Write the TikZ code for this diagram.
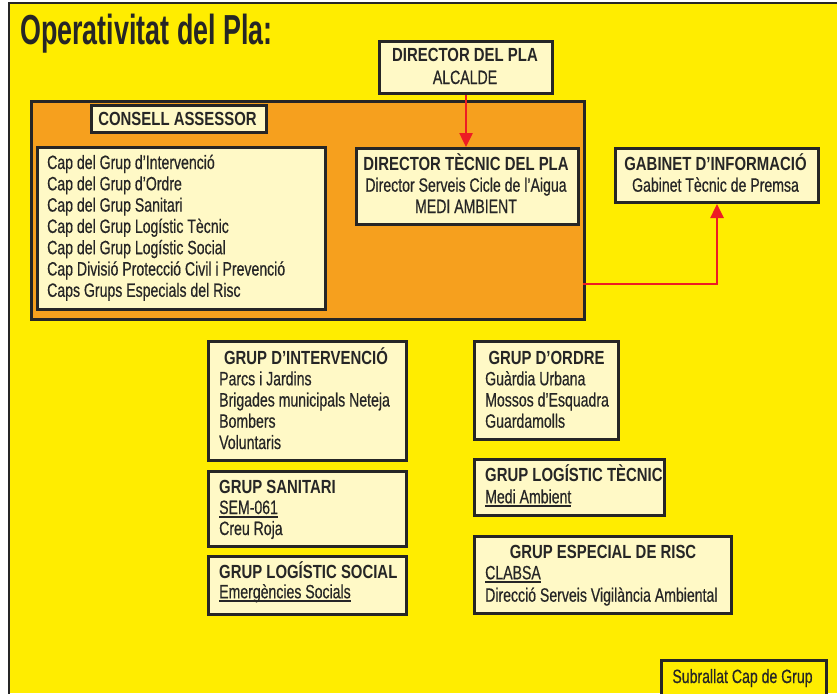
\documentclass[tikz,border=0pt]{standalone}
\usepackage{fontspec}
\setmainfont[FakeStretch=0.73,FakeBold=0.5]{Liberation Sans}
\newfontfamily\titlefont[FakeStretch=0.64]{Liberation Sans}
\newfontfamily\hdrfont[FakeStretch=0.785]{Liberation Sans}
\usetikzlibrary{arrows.meta}
\definecolor{yel}{HTML}{FFED00}
\definecolor{org}{HTML}{F6A01E}
\definecolor{pale}{HTML}{FFF9C6}
\definecolor{dk}{HTML}{262626}
\definecolor{rd}{HTML}{ED1C24}
\newcommand\ulx[1]{\setbox0\hbox{#1}\rlap{\rule[-3.6pt]{\wd0}{1.8pt}}\box0}
\tikzset{
  box/.style={draw=dk, line width=3pt, fill=pale, inner sep=0pt, anchor=north west},
  txt/.style={anchor=base west, inner sep=0pt, text=dk, font=\fontsize{19.3}{21}\selectfont},
  hd/.style={anchor=base, inner sep=0pt, text=dk, font=\hdrfont\bfseries\fontsize{19}{21}\selectfont},
  hdl/.style={hd, anchor=base west},
  arr/.style={draw=rd, line width=2.5pt, -{Triangle[length=14pt,width=13pt]}}
}
\begin{document}
\begin{tikzpicture}[x=1pt,y=-1pt]
\clip (0,0) rectangle (837,693);
\fill[white] (0,0) rectangle (837,693);
\fill[yel] (9,3) rectangle (837,693);
\draw[dk, line width=2.5pt] (9,700) -- (9,3) -- (840,3);
% title
\node[anchor=base west, inner sep=0pt, text=dk, font=\titlefont\bfseries\fontsize{42}{42}\selectfont] (title) at (20,45) {Operativitat del Pla:};
% boxes
\node[box, minimum width=173pt, minimum height=52pt] (dp) at (378,40) {};
\node[box, fill=org, minimum width=553pt, minimum height=218pt] (ca) at (30,100) {};
\node[box, minimum width=175pt, minimum height=27pt] (cah) at (90,104) {};
\node[box, minimum width=288pt, minimum height=162pt] (cl) at (36,146) {};
\node[box, minimum width=222pt, minimum height=76pt] (dt) at (355,147) {};
\node[box, minimum width=203pt, minimum height=54pt] (gab) at (614,147) {};
\node[box, minimum width=198pt, minimum height=119pt] (gi) at (207,340) {};
\node[box, minimum width=198pt, minimum height=75pt] (gs) at (207,470) {};
\node[box, minimum width=198pt, minimum height=58pt] (gls) at (207,555) {};
\node[box, minimum width=144pt, minimum height=98pt] (go) at (473,340) {};
\node[box, minimum width=190pt, minimum height=56pt] (glt) at (473,458) {};
\node[box, minimum width=257pt, minimum height=77pt] (ge) at (473,535) {};
\node[box, fill=yel, minimum width=165pt, minimum height=46pt] (sub) at (660,659) {};
% texts
\node[hd] (dp1) at (465,62) {DIRECTOR DEL PLA};
\node[txt, anchor=base] (dp2) at (465,84) {ALCALDE};
\node[hd] (cah1) at (177.5,125) {CONSELL ASSESSOR};
\node[txt] (cl1) at (47,169) {Cap del Grup d’Intervenció};
\node[txt] (cl2) at (47,190.3) {Cap del Grup d’Ordre};
\node[txt] (cl3) at (47,211.6) {Cap del Grup Sanitari};
\node[txt] (cl4) at (47,232.9) {Cap del Grup Logístic Tècnic};
\node[txt] (cl5) at (47,254.2) {Cap del Grup Logístic Social};
\node[txt] (cl6) at (47,275.5) {Cap Divisió Protecció Civil i Prevenció};
\node[txt] (cl7) at (47,296.8) {Caps Grups Especials del Risc};
\node[hd] (dt1) at (466,170) {DIRECTOR TÈCNIC DEL PLA};
\node[txt, anchor=base] (dt2) at (466,191.7) {Director Serveis Cicle de l’Aigua};
\node[txt, anchor=base] (dt3) at (466,213) {MEDI AMBIENT};
\node[hd] (gab1) at (715.5,170) {GABINET D’INFORMACIÓ};
\node[txt, anchor=base] (gab2) at (715.5,191.7) {Gabinet Tècnic de Premsa};
\node[hd] (gi1) at (306,364.3) {GRUP D’INTERVENCIÓ};
\node[txt] (gi2) at (219,385.3) {Parcs i Jardins};
\node[txt] (gi3) at (219,406.5) {Brigades municipals Neteja};
\node[txt] (gi4) at (219,427.7) {Bombers};
\node[txt] (gi5) at (219,449) {Voluntaris};
\node[hdl] (gs1) at (219,493.3) {GRUP SANITARI};
\node[txt] (gs2) at (219,514) {\ulx{SEM-061}};
\node[txt] (gs3) at (219,535) {Creu Roja};
\node[hdl] (gls1) at (219,578.3) {GRUP LOGÍSTIC SOCIAL};
\node[txt] (gls2) at (219,598.3) {\ulx{Emergències Socials}};
\node[hd] (go1) at (546.5,364.3) {GRUP D’ORDRE};
\node[txt] (go2) at (485,385.3) {Guàrdia Urbana};
\node[txt] (go3) at (485,406.5) {Mossos d’Esquadra};
\node[txt] (go4) at (485,427.7) {Guardamolls};
\node[hdl] (glt1) at (485,481.7) {GRUP LOGÍSTIC TÈCNIC};
\node[txt] (glt2) at (485,503.3) {\ulx{Medi Ambient}};
\node[hd] (ge1) at (603,558.3) {GRUP ESPECIAL DE RISC};
\node[txt] (ge2) at (485,579.3) {\ulx{CLABSA}};
\node[txt] (ge3) at (485,601.7) {Direcció Serveis Vigilància Ambiental};
\node[txt, anchor=base] (sub1) at (742.5,683) {Subrallat Cap de Grup};
% connectors
\draw[arr] (dp.south) -- (dp.south |- dt.north);
\coordinate (a2) at (583,284);
\draw[arr] (a2) -| (gab.south);
\end{tikzpicture}
\end{document}
